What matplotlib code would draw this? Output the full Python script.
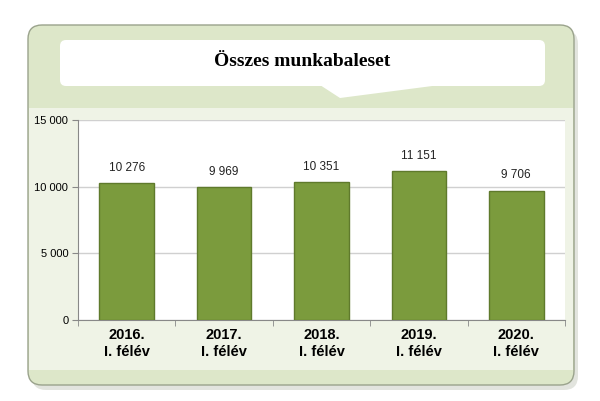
import matplotlib.pyplot as plt
from matplotlib.patches import FancyBboxPatch, Polygon, Rectangle

categories = ["2016.\nI. félév", "2017.\nI. félév", "2018.\nI. félév", "2019.\nI. félév", "2020.\nI. félév"]
values = [10276, 9969, 10351, 11151, 9706]
labels = ["10 276", "9 969", "10 351", "11 151", "9 706"]
yticks = [0, 5000, 10000, 15000]
ytick_labels = ["0", "5 000", "10 000", "15 000"]

W, H = 600, 401
fig = plt.figure(figsize=(6, 4.01), dpi=100)
bg = fig.add_axes([0, 0, 1, 1])
bg.set_xlim(0, W)
bg.set_ylim(H, 0)
bg.axis("off")

# outer rounded panel with shadow
bg.add_patch(FancyBboxPatch((32, 30), 546, 360, boxstyle="round,pad=0,rounding_size=14",
                            fc="#cfd3c8", ec="none", alpha=0.6))
bg.add_patch(FancyBboxPatch((28, 25), 546, 360, boxstyle="round,pad=0,rounding_size=14",
                            fc="#dde7c9", ec="#9aa38c", lw=1))
bg.add_patch(Rectangle((29, 108), 544, 262, fc="#eff3e6", ec="none"))

# title speech bubble
bg.add_patch(FancyBboxPatch((60, 40), 485, 46, boxstyle="round,pad=0,rounding_size=6",
                            fc="white", ec="none"))
bg.add_patch(Polygon([[320, 85], [340, 98], [440, 85]], closed=True, fc="white", ec="none"))
bg.text(302, 61, "Összes munkabaleset", ha="center", va="center",
        fontsize=14, fontweight="bold", family="Liberation Serif")

ax = fig.add_axes([78 / W, 1 - 320 / H, (565 - 78) / W, 200 / H])
ax.set_facecolor("white")
x = range(len(values))
ax.bar(x, values, width=0.56, color="#7b9b3d", edgecolor="#5f7a2c", linewidth=1, zorder=3)
for xi, v, lab in zip(x, values, labels):
    ax.text(xi, v + 700, lab, ha="center", va="bottom", fontsize=8.5,
            family="Liberation Sans", color="#222222")
ax.set_xlim(-0.5, len(values) - 0.5)
ax.set_ylim(0, 15000)
ax.set_yticks(yticks)
ax.set_yticklabels(ytick_labels, fontsize=8, family="Liberation Sans")
ax.set_xticks(list(x))
ax.set_xticklabels(categories, fontsize=10.5, fontweight="bold", family="Liberation Sans")
ax.set_xticks([i + 0.5 for i in range(-1, len(values))], minor=True)
ax.tick_params(axis="x", which="major", length=0, pad=6)
ax.tick_params(axis="x", which="minor", length=4, color="#888888")
ax.tick_params(axis="y", length=4, color="#888888", pad=3)
ax.grid(axis="y", color="#d0d0d0", lw=1, zorder=0)
for s in ["top", "right"]:
    ax.spines[s].set_visible(False)
ax.spines["left"].set_color("#888888")
ax.spines["bottom"].set_color("#888888")

fig.savefig("out.png", dpi=100)
